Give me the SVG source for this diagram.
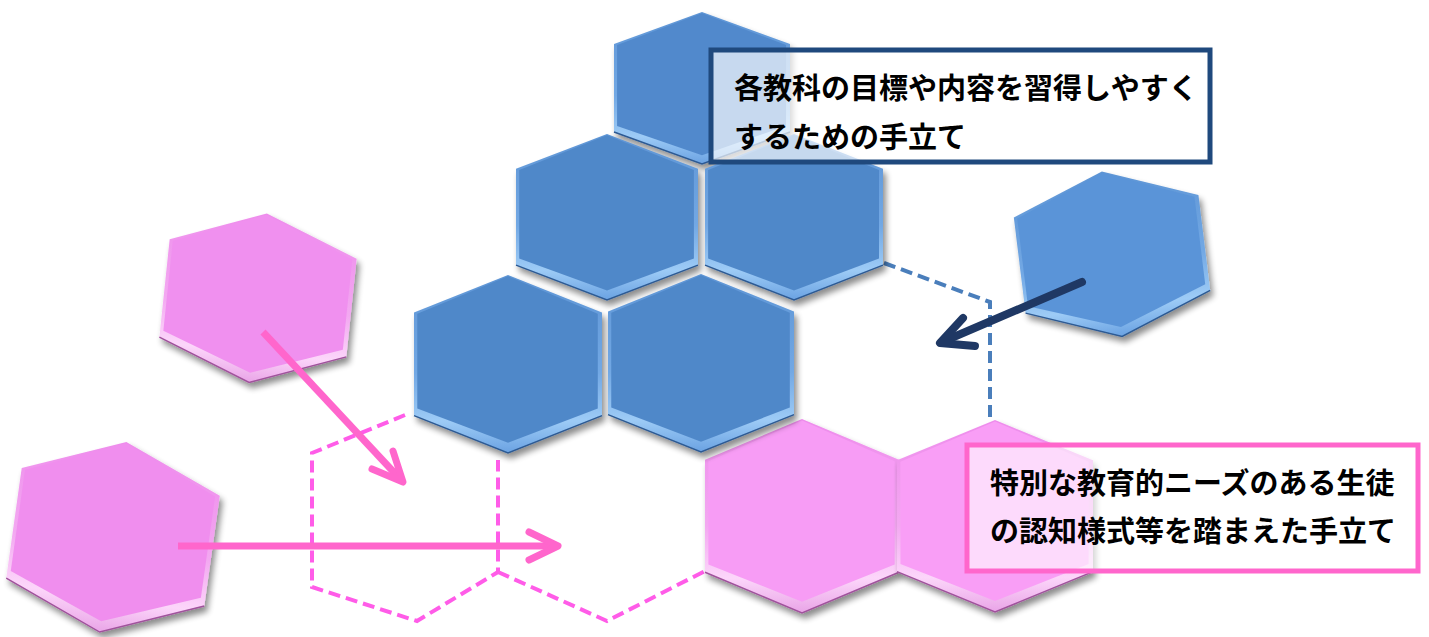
<svg xmlns="http://www.w3.org/2000/svg" xmlns:xlink="http://www.w3.org/1999/xlink" width="1429" height="637" viewBox="0 0 1429 637">
<style>
.txt{font-family:"Noto Sans CJK JP","Noto Sans CJK SC",sans-serif;font-weight:700;font-size:29px;fill:#000}
.pdash{fill:none;stroke:#FF5CE8;stroke-width:4;stroke-dasharray:12 6}
.bdash{fill:none;stroke:#4A7EBB;stroke-width:4;stroke-dasharray:12 6}
.parrow{fill:none;stroke:#FF66CC;stroke-width:7;stroke-linecap:round;stroke-linejoin:round}
.narrow{fill:none;stroke:#1F3864;stroke-width:8;stroke-linecap:round;stroke-linejoin:round}
</style>
<defs>
<filter id="sh" x="-20%" y="-20%" width="150%" height="150%">
<feGaussianBlur in="SourceAlpha" stdDeviation="3"/>
<feOffset dx="3" dy="5"/>
<feComponentTransfer><feFuncA type="linear" slope="0.45"/></feComponentTransfer>
<feMerge><feMergeNode/><feMergeNode in="SourceGraphic"/></feMerge>
</filter>
<linearGradient id="gB" x1="0" y1="0" x2="0" y2="1">
<stop offset="0" stop-color="#5E95D5"/>
<stop offset="0.55" stop-color="#72A8E4"/>
<stop offset="0.82" stop-color="#9DCBF6"/>
<stop offset="1" stop-color="#6AA2E2"/>
</linearGradient>
<linearGradient id="gP" x1="0" y1="0" x2="0" y2="1">
<stop offset="0" stop-color="#EE8CEC"/>
<stop offset="0.55" stop-color="#F3A8F1"/>
<stop offset="0.82" stop-color="#FCD6FA"/>
<stop offset="1" stop-color="#E9A4E7"/>
</linearGradient>
<g id="hexB">
<polygon points="0,-1 1,-0.58 1,0.58 0,1 -1,0.58 -1,-0.58" fill="url(#gB)"/>
<polygon points="0,-0.985 0.955,-0.565 0.955,0.5 0,0.885 -0.965,0.5 -0.965,-0.565"/>
<polyline points="-1,0.58 0,1 1,0.58" fill="none" stroke="#2D5A93" stroke-width="1.5" vector-effect="non-scaling-stroke"/>
</g>
<g id="hexP">
<polygon points="0,-1 1,-0.58 1,0.58 0,1 -1,0.58 -1,-0.58" fill="url(#gP)"/>
<polygon points="0,-0.985 0.955,-0.565 0.955,0.5 0,0.885 -0.965,0.5 -0.965,-0.565"/>
<polyline points="-1,0.58 0,1 1,0.58" fill="none" stroke="#A0529C" stroke-width="1.5" vector-effect="non-scaling-stroke"/>
</g>
</defs>
<rect width="1429" height="637" fill="#FFFFFF"/>

<g id="connectors">
<polyline class="pdash" points="405,415 312,453 312,587 417,621 498,572 498,460"/>
<polyline class="pdash" points="498,572 607,621 707,570"/>
<polyline class="bdash" points="884,263 990,302 990,422"/>
</g>

<g id="hex-top" filter="url(#sh)"><use xlink:href="#hexB" fill="#5189CC" transform="translate(702,88) scale(88,76)"/></g>
<g id="hex-pink-3" filter="url(#sh)"><use xlink:href="#hexP" fill="#F79CF5" transform="translate(802,516) scale(97,97)"/></g>
<g id="hex-pink-4" filter="url(#sh)"><use xlink:href="#hexP" fill="#F99EF6" transform="translate(995,516) scale(98,96)"/></g>
<g id="hex-blue-2" filter="url(#sh)"><use xlink:href="#hexB" fill="#5088C9" transform="translate(607,217) scale(91,83)"/></g>
<g id="hex-blue-3" filter="url(#sh)"><use xlink:href="#hexB" fill="#5088C9" transform="translate(794,217) scale(89,83)"/></g>
<g id="hex-blue-4" filter="url(#sh)"><use xlink:href="#hexB" fill="#5088C9" transform="translate(508,364) scale(94,89)"/></g>
<g id="hex-blue-5" filter="url(#sh)"><use xlink:href="#hexB" fill="#5088C9" transform="translate(701,363) scale(93,89)"/></g>
<g id="hex-blue-6" filter="url(#sh)"><use xlink:href="#hexB" fill="#5A94D8" transform="translate(1112,254) rotate(-7) scale(93,83)"/></g>
<g id="hex-pink-1" filter="url(#sh)"><use xlink:href="#hexP" fill="#F090EF" transform="translate(258,298) rotate(6) scale(94,85)"/></g>
<g id="hex-pink-2" filter="url(#sh)"><use xlink:href="#hexP" fill="#F08EEE" transform="translate(113,537) rotate(8) scale(100,96)"/></g>

<g id="arrows">
<line class="parrow" x1="263" y1="332" x2="402" y2="481" style="stroke-linecap:butt"/>
<polyline class="parrow" points="372,469 403,482 393,451"/>
<line class="parrow" x1="178" y1="546" x2="556" y2="546" style="stroke-linecap:butt"/>
<polyline class="parrow" points="529,532 558,546 529,560"/>
<line class="narrow" x1="1082" y1="282" x2="942" y2="342"/>
<polyline class="narrow" points="963,318 940,343 975,346"/>
</g>

<g id="box-blue">
<rect x="711" y="50" width="499" height="112" fill="#FFFFFF" fill-opacity="0.68" stroke="#1F497D" stroke-width="5"/>
<text class="txt" x="734" y="99">各教科の目標や内容を習得しやすく</text>
<text class="txt" x="734" y="148">するための手立て</text>
</g>
<g id="box-pink">
<rect x="967" y="445" width="451" height="126" fill="#FFFFFF" fill-opacity="0.62" stroke="#FF66CC" stroke-width="5"/>
<text class="txt" x="990" y="494">特別な教育的ニーズのある生徒</text>
<text class="txt" x="990" y="542">の認知様式等を踏まえた手立て</text>
</g>
</svg>
